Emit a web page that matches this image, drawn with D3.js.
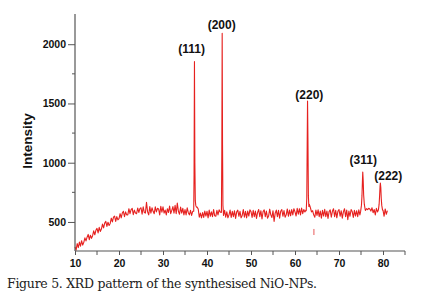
<!DOCTYPE html>
<html><head><meta charset="utf-8">
<script src="https://cdn.jsdelivr.net/npm/d3@7"></script>
<style>
html,body{margin:0;padding:0;background:#fff;}
svg{display:block;}
</style></head>
<body>
<script>
// ---- data ----
const scanStart = 10, scanStep = 0.25;
// baseline intensity every 0.25 deg, 10.00 .. 81.00 (one row per degree)
const baseline = [
 290,262,318,284, 330,296,342,305, 328,366,340,372, 395,350,388,362,
 384,425,392,430, 446,408,455,420, 440,482,450,490, 505,462,498,470,
 488,532,500,540, 550,505,545,518, 528,570,535,575, 590,545,585,560,
 560,612,570,605, 615,562,600,575, 570,618,580,612, 620,565,628,580,
 575,665,585,560, 630,575,620,590, 570,628,585,615, 610,560,632,582,
 628,575,600,560, 612,580,635,570, 598,630,575,640, 570,660,590,565,
 625,575,615,560, 605,560,620,578, 560,598,555,590, 575,580,580,625,
 610,540,575,535, 580,538,592,550, 590,535,600,548, 585,545,605,552,
 548,598,560,602, 585,580,580,555, 598,540,585,535, 560,600,538,590,
 545,595,530,585, 600,548,590,535, 555,605,540,590, 535,592,550,602,
 588,538,598,545, 592,530,580,605, 545,595,525,588, 602,545,592,532,
 550,608,560,538, 595,505,575,600, 545,598,532,590, 605,548,596,540,
 560,610,548,600, 552,605,560,612, 585,550,615,565, 612,560,618,570,
 605,585,600,590, 600,650,620,585, 595,560,540,600, 555,602,545,592,
 532,598,550,606, 545,592,530,588, 602,540,590,612, 545,598,535,590,
 605,548,595,532, 585,612,545,600, 520,592,548,605, 588,538,598,550,
 595,545,602,560, 580,600,600,600, 598,612,604,615, 610,592,620,578,
 605,560,615,585, 600,600,600,600, 600,548,610,565, 595
];
// reflection peaks: [2theta, intensity]
const peak111 = [[36.98,590],[37.06,900],[37.15,1853],[37.24,1000],[37.34,680],[37.45,640],[37.6,625]];
const peak200 = [[43.28,590],[43.37,1100],[43.45,2093],[43.53,1150],[43.62,640],[43.72,585]];
const peak220 = [[62.55,595],[62.68,700],[62.77,1150],[62.85,1520],[62.94,1200],[63.04,720],[63.15,630]];
const peak311 = [[74.9,585],[75.1,640],[75.22,720],[75.32,840],[75.4,921],[75.5,850],[75.6,730],[75.75,650],[75.95,605]];
const peak222 = [[78.95,600],[79.12,650],[79.24,730],[79.33,800],[79.4,828],[79.5,790],[79.6,700],[79.72,640],[79.9,600]];
const peakLabels = ["(111)","(200)","(220)","(311)","(222)"];
const labelTheta = [36.52, 43.34, 63.25, 75.52, 81.2];
const labelIntensity = [1926, 2128, 1538, 989, 854];
const markTheta = [64.3];
const markRange = [[390, 441]];
const xTickValues = [10,20,30,40,50,60,70,80];
const xMinorValues = [15,25,35,45,55,65,75,85];
const yTickValues = [500,1000,1500,2000];
const yMinorValues = [750,1250,1750];
const yTitle = "Intensity";
const caption = "Figure 5. XRD pattern of the synthesised NiO-NPs.";

// ---- build series ----
const peaks = [peak111, peak200, peak220, peak311, peak222];
let pts = baseline.map((v,i)=>[scanStart + i*scanStep, v]);
peaks.forEach(p=>{
  const lo = p[0][0], hi = p[p.length-1][0];
  pts = pts.filter(d => d[0] < lo || d[0] > hi);
  pts = pts.concat(p);
});
pts.sort((a,b)=>a[0]-b[0]);

// ---- chart ----
const W = 427, H = 305;
const svg = d3.select("body").append("svg").attr("width",W).attr("height",H);
const x = d3.scaleLinear().domain([10,85]).range([75,405]);
const y = d3.scaleLinear().domain([255,2255]).range([251,14]);
const axisColor = "#555";
const tickFont = "'Liberation Sans', Arial, sans-serif";

// data line
svg.append("path").datum(pts)
  .attr("fill","none").attr("stroke","#e6211f").attr("stroke-width",1.1)
  .attr("stroke-linejoin","round")
  .attr("d", d3.line().x(d=>x(d[0])).y(d=>y(d[1])));

// small mark
svg.selectAll(".mk").data(markTheta).enter().append("line")
  .attr("x1",d=>x(d)).attr("x2",d=>x(d))
  .attr("y1",(d,i)=>y(markRange[i][0])).attr("y2",(d,i)=>y(markRange[i][1]))
  .attr("stroke","#e85a5a").attr("stroke-width",1);

// x axis
const gx = svg.append("g").attr("transform","translate(0,251)");
gx.call(d3.axisBottom(x).tickValues(xTickValues).tickSize(4).tickPadding(5).tickFormat(d3.format("d")));
gx.selectAll(".minor").data(xMinorValues).enter().append("line")
  .attr("x1",d=>x(d)).attr("x2",d=>x(d)).attr("y1",0).attr("y2",4)
  .attr("stroke",axisColor);
gx.select(".domain").attr("d",`M${x(10)},0H${x(85)}`);

// y axis
const gy = svg.append("g").attr("transform","translate(75,0)");
gy.call(d3.axisLeft(y).tickValues(yTickValues).tickSize(7).tickPadding(2).tickFormat(d3.format("d")));
gy.selectAll(".minor").data(yMinorValues).enter().append("line")
  .attr("x1",-3).attr("x2",0).attr("y1",d=>y(d)).attr("y2",d=>y(d))
  .attr("stroke",axisColor);
gy.select(".domain").attr("d",`M0,${y(2255)}V${y(255)}`);

[gx,gy].forEach(g=>{
  g.selectAll(".domain").attr("stroke",axisColor).attr("stroke-width",1.2);
  g.selectAll(".tick line").attr("stroke",axisColor);
  g.selectAll("text").attr("font-family",tickFont).attr("font-weight","bold")
    .attr("font-size",10.5).attr("fill","#111");
});

// peak labels
svg.selectAll(".pl").data(peakLabels).enter().append("text")
  .attr("x",(d,i)=>x(labelTheta[i])).attr("y",(d,i)=>y(labelIntensity[i]))
  .attr("text-anchor","middle").attr("font-family",tickFont)
  .attr("font-weight","bold").attr("font-size",12).attr("fill","#111")
  .text(d=>d);

// y title
svg.append("text").attr("transform","translate(32,141) rotate(-90)")
  .attr("text-anchor","middle").attr("font-family",tickFont)
  .attr("font-weight","bold").attr("font-size",13.5).attr("fill","#111")
  .text(yTitle);

// caption
svg.append("text").attr("x",7).attr("y",288)
  .attr("font-family","'Palatino Linotype','Book Antiqua','DejaVu Serif',serif")
  .attr("font-size",12.5).attr("fill","#222")
  .attr("textLength",310).attr("lengthAdjust","spacing")
  .text(caption);
</script>
</body></html>
